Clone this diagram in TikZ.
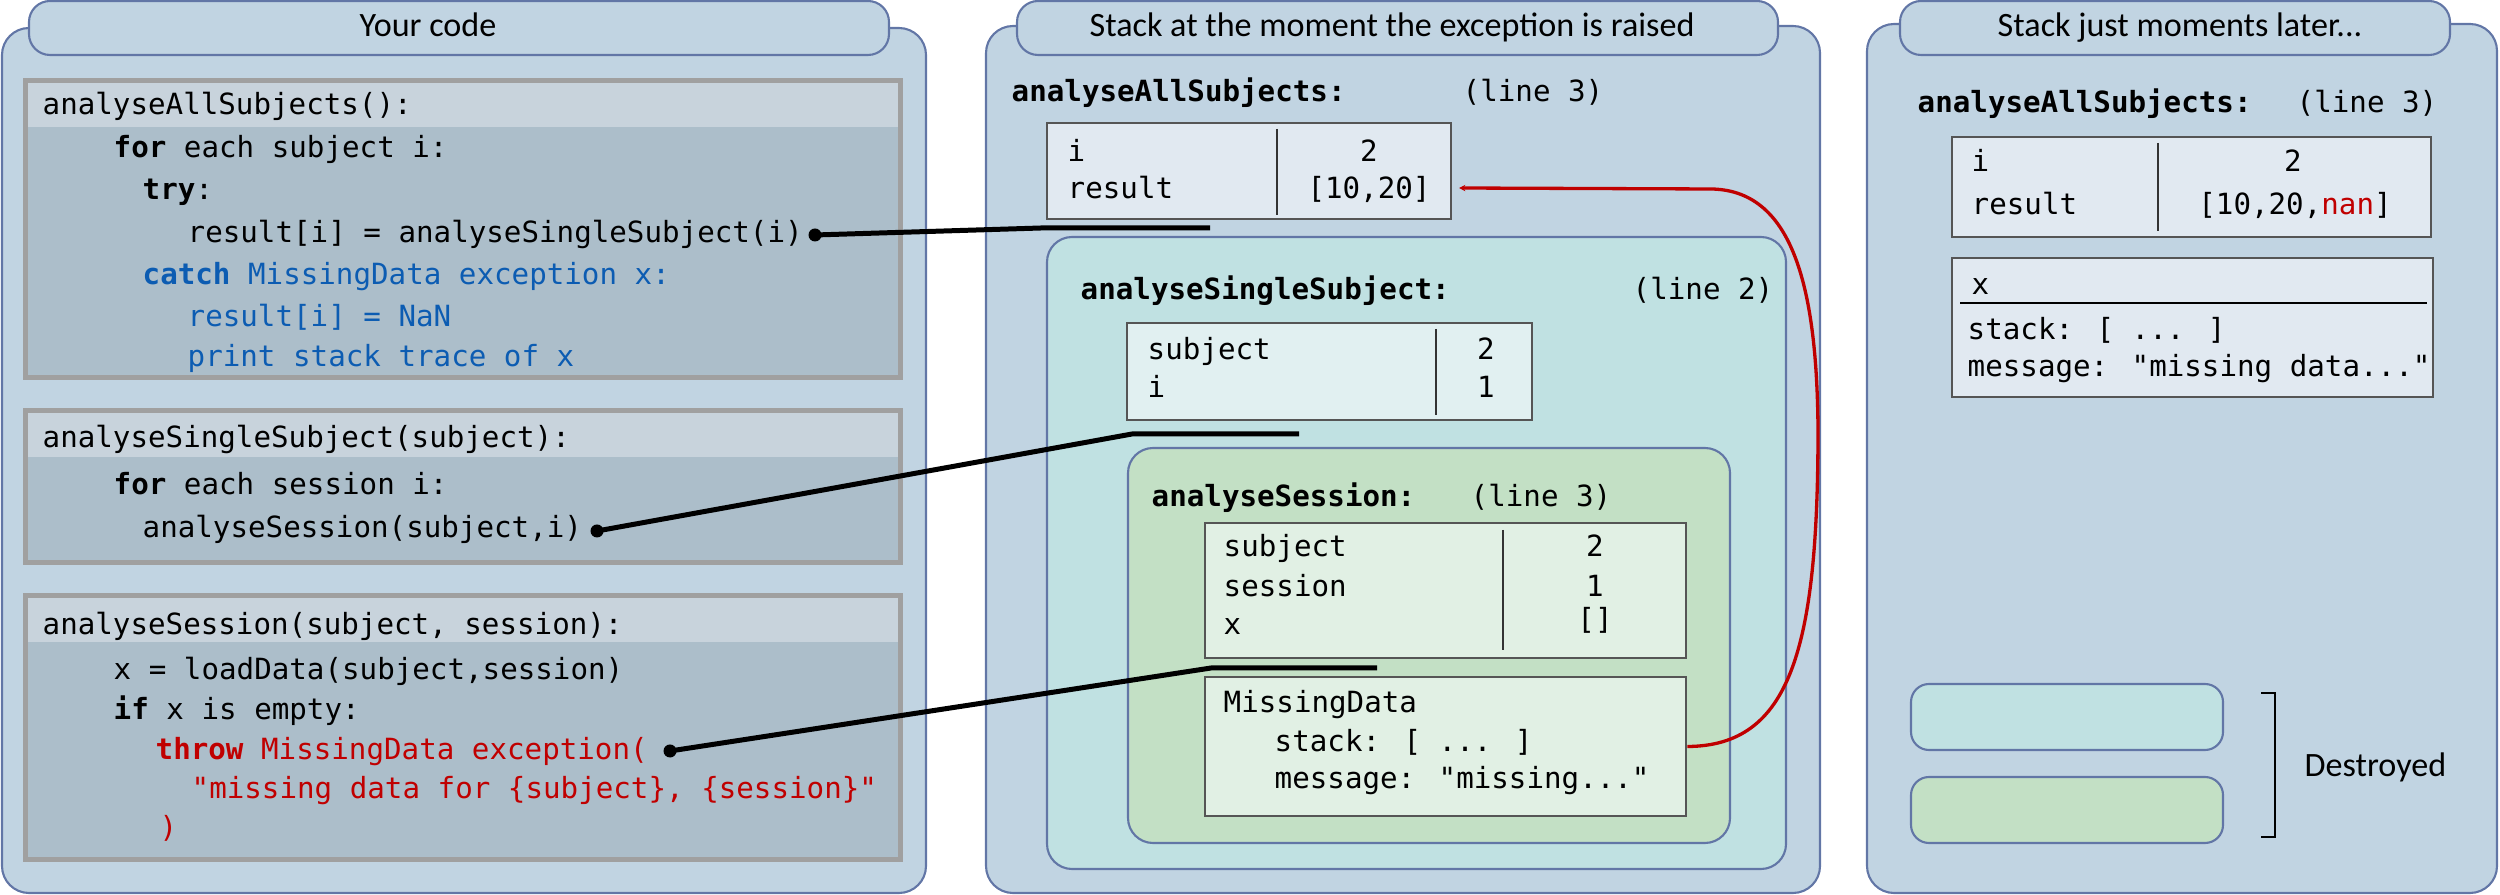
\documentclass[tikz,border=0pt]{standalone}
\usepackage{fontspec}
\setmainfont{Carlito}
\newfontfamily\monof[Ligatures=TeXOff]{DejaVu Sans Mono}
\usetikzlibrary{fit,arrows.meta}
\definecolor{panelfill}{RGB}{193,212,226}
\definecolor{panelline}{RGB}{98,118,166}
\definecolor{codeframe}{RGB}{160,160,160}
\definecolor{codehead}{RGB}{200,211,220}
\definecolor{codebody}{RGB}{172,190,202}
\definecolor{tealfill}{RGB}{192,225,226}
\definecolor{greenfill}{RGB}{195,224,197}
\definecolor{vbblue}{RGB}{225,233,241}
\definecolor{vbteal}{RGB}{225,240,241}
\definecolor{vbgreen}{RGB}{225,240,228}
\definecolor{vbline}{RGB}{85,85,85}
\definecolor{codeblue}{RGB}{12,92,178}
\definecolor{codered}{RGB}{192,0,0}
\begin{document}
\begin{tikzpicture}[x=0.01cm,y=-0.01cm,
  panel/.style={fill=panelfill,draw=panelline,line width=0.6pt,rounded corners=0.27cm,inner sep=0},
  tab/.style={fill=panelfill,draw=panelline,line width=0.6pt,rounded corners=0.21cm,inner sep=0},
  frame/.style={draw=panelline,line width=0.6pt,rounded corners=0.25cm,inner sep=0},
  smallframe/.style={draw=panelline,line width=0.6pt,rounded corners=0.18cm,inner sep=0},
  codebox/.style={fill=codebody,draw=codeframe,line width=1.42pt,inner sep=0},
  codehead/.style={fill=codehead,draw=none,inner sep=0},
  varbox/.style={draw=vbline,line width=0.8pt,inner sep=0},
  divider/.style={line width=0.35pt,draw=black!80},
  code/.style={anchor=base west,inner sep=0,font={\monof\fontsize{8.3}{10}\selectfont}},
  val/.style={anchor=base,inner sep=0,font={\monof\fontsize{8.3}{10}\selectfont}},
  sans/.style={inner sep=0,font={\fontsize{9.7}{11}\selectfont}},
  conn/.style={line width=1.42pt,line join=round},
  redline/.style={draw=codered,line width=0.94pt}
]
\useasboundingbox (0,0) rectangle (2500,895);

% ---------------- Panel 1: Your code ----------------
\node[panel,fit={(2,28) (926,893)}] (p1) {};
\node[tab,fit={(29,1) (889,55)}] (t1) {};
\node[sans,anchor=base] (t1text) at (428,37) {Your code};

\node[codebox,fit={(25.5,80.5) (900.5,377.5)}] (cb1) {};
\node[codehead,fit={(28,83) (898,127)}] (cb1h) {};
\node[codebox,fit={(25.5,410.5) (900.5,562.5)}] (cb2) {};
\node[codehead,fit={(28,413) (898,457)}] (cb2h) {};
\node[codebox,fit={(25.5,595.5) (900.5,859.5)}] (cb3) {};
\node[codehead,fit={(28,598) (898,642)}] (cb3h) {};

\node[code] (c10) at (42,115) {analyseAllSubjects():};
\node[code] (c11) at (113,158) {\textbf{for} each subject i:};
\node[code] (c12) at (142,200) {\textbf{try}:};
\node[code] (c13) at (187,243) {result[i] = analyseSingleSubject(i)};
\node[code,text=codeblue] (c14) at (142,285) {\textbf{catch} MissingData exception x:};
\node[code,text=codeblue] (c15) at (187,327) {result[i] = NaN};
\node[code,text=codeblue] (c16) at (187,367) {print stack trace of x};

\node[code] (c20) at (42,448) {analyseSingleSubject(subject):};
\node[code] (c21) at (113,495) {\textbf{for} each session i:};
\node[code] (c22) at (142,538) {analyseSession(subject,i)};

\node[code] (c30) at (42,635) {analyseSession(subject, session):};
\node[code] (c31) at (113,680) {x = loadData(subject,session)};
\node[code] (c32) at (113,720) {\textbf{if} x is empty:};
\node[code,text=codered] (c33) at (155,760) {\textbf{throw} MissingData exception(};
\node[code,text=codered] (c34) at (191,799) {"missing data for \{subject\}, \{session\}"};
\node[code,text=codered] (c35) at (159,838) {)};

% ---------------- Panel 2: Stack at the moment ----------------
\node[panel,fit={(986,26) (1820,893)}] (p2) {};
\node[tab,fit={(1017,1) (1778,55)}] (t2) {};
\node[sans,anchor=base] (t2text) at (1392,37) {Stack at the moment the exception is raised};

\node[code] (f1name) at (1011,102) {\textbf{analyseAllSubjects:}};
\node[code] (f1line) at (1462,102) {(line 3)};
\node[varbox,fill=vbblue,fit={(1047,123) (1451,219)}] (vb1) {};
\draw[divider] (1277,129) -- (1277,215);
\node[code] (vb1k1) at (1067,162) {i};
\node[code] (vb1k2) at (1067,199) {result};
\node[val] (vb1v1) at (1369,162) {2};
\node[val] (vb1v2) at (1369,199) {[10,20]};

\node[frame,fill=tealfill,fit={(1047,237) (1786,869)}] (fr2) {};
\node[code] (f2name) at (1080,300) {\textbf{analyseSingleSubject:}};
\node[code] (f2line) at (1632,300) {(line 2)};
\node[varbox,fill=vbteal,fit={(1127,323) (1532,420)}] (vb2) {};
\draw[divider] (1436,329) -- (1436,415);
\node[code] (vb2k1) at (1147,360) {subject};
\node[code] (vb2k2) at (1147,398) {i};
\node[val] (vb2v1) at (1486,360) {2};
\node[val] (vb2v2) at (1486,398) {1};

\node[frame,fill=greenfill,fit={(1128,448) (1730,843)}] (fr3) {};
\node[code] (f3name) at (1151,507) {\textbf{analyseSession:}};
\node[code] (f3line) at (1470,507) {(line 3)};
\node[varbox,fill=vbgreen,fit={(1205,523) (1686,658)}] (vb3) {};
\draw[divider] (1503,530) -- (1503,650);
\node[code] (vb3k1) at (1223,557) {subject};
\node[code] (vb3k2) at (1223,597) {session};
\node[code] (vb3k3) at (1223,635) {x};
\node[val] (vb3v1) at (1595,557) {2};
\node[val] (vb3v2) at (1595,597) {1};
\node[val] (vb3v3) at (1595,630) {[]};

\node[varbox,fill=vbgreen,fit={(1205,677) (1686,816)}] (md) {};
\node[code] (md1) at (1223,713) {MissingData};
\node[code] (md2) at (1274,752) {stack: [ ... ]};
\node[code] (md3) at (1274,789) {message: "missing..."};

% ---------------- Panel 3: Stack just moments later ----------------
\node[panel,fit={(1867,24) (2497,893)}] (p3) {};
\node[tab,fit={(1900,1) (2450,55)}] (t3) {};
\node[sans,anchor=base] (t3text) at (2180,37) {Stack just moments later...};

\node[code] (g1name) at (1917,113) {\textbf{analyseAllSubjects:}};
\node[code] (g1line) at (2296,113) {(line 3)};
\node[varbox,fill=vbblue,fit={(1952,137) (2431,237)}] (vb4) {};
\draw[divider] (2158,143) -- (2158,231);
\node[code] (vb4k1) at (1971,172) {i};
\node[code] (vb4k2) at (1971,215) {result};
\node[val] (vb4v1) at (2293,172) {2};
\node[val] (vb4v2) at (2295,215) {[10,20,\textcolor{codered}{nan}]};

\node[varbox,fill=vbblue,fit={(1952,258) (2433,397)}] (xb) {};
\node[code] (xb1) at (1971,295) {x};
\draw[line width=0.35pt] (1960,303) -- (2427,303);
\node[code] (xb2) at (1967,340) {stack: [ ... ]};
\node[code] (xb3) at (1967,377) {message: "missing data..."};

\node[smallframe,fill=tealfill,fit={(1911,684) (2223,750)}] (dz1) {};
\node[smallframe,fill=greenfill,fit={(1911,777) (2223,843)}] (dz2) {};
\draw[line width=0.75pt] (2261,693) -- (2275,693) -- (2275,837) -- (2261,837);
\node[sans,anchor=base west] (destroyed) at (2304,777) {Destroyed};

% ---------------- Connectors ----------------
\coordinate (d1) at (815,235);
\coordinate (k1) at (1041,228);
\coordinate (e1) at (1210,228);
\coordinate (d2) at (597,531);
\coordinate (k2) at (1132,434);
\coordinate (e2) at (1299,434);
\coordinate (d3) at (670,751);
\coordinate (k3) at (1211,668);
\coordinate (e3) at (1377,668);
\draw[conn] (d1) -- (k1) -- (e1);
\draw[conn] (d2) -- (k2) -- (e2);
\draw[conn] (d3) -- (k3) -- (e3);
\fill (d1) circle (0.065cm);
\fill (d2) circle (0.065cm);
\fill (d3) circle (0.065cm);

\coordinate (rs) at (1459,188);
\draw[redline,{Stealth[length=1.8pt,width=1.8pt]}-] (rs) -- (1711,189)
  .. controls (1790,190) and (1817,280) .. (1818,430)
  .. controls (1818,650) and (1790,746) .. (md.east);
\end{tikzpicture}
\end{document}
